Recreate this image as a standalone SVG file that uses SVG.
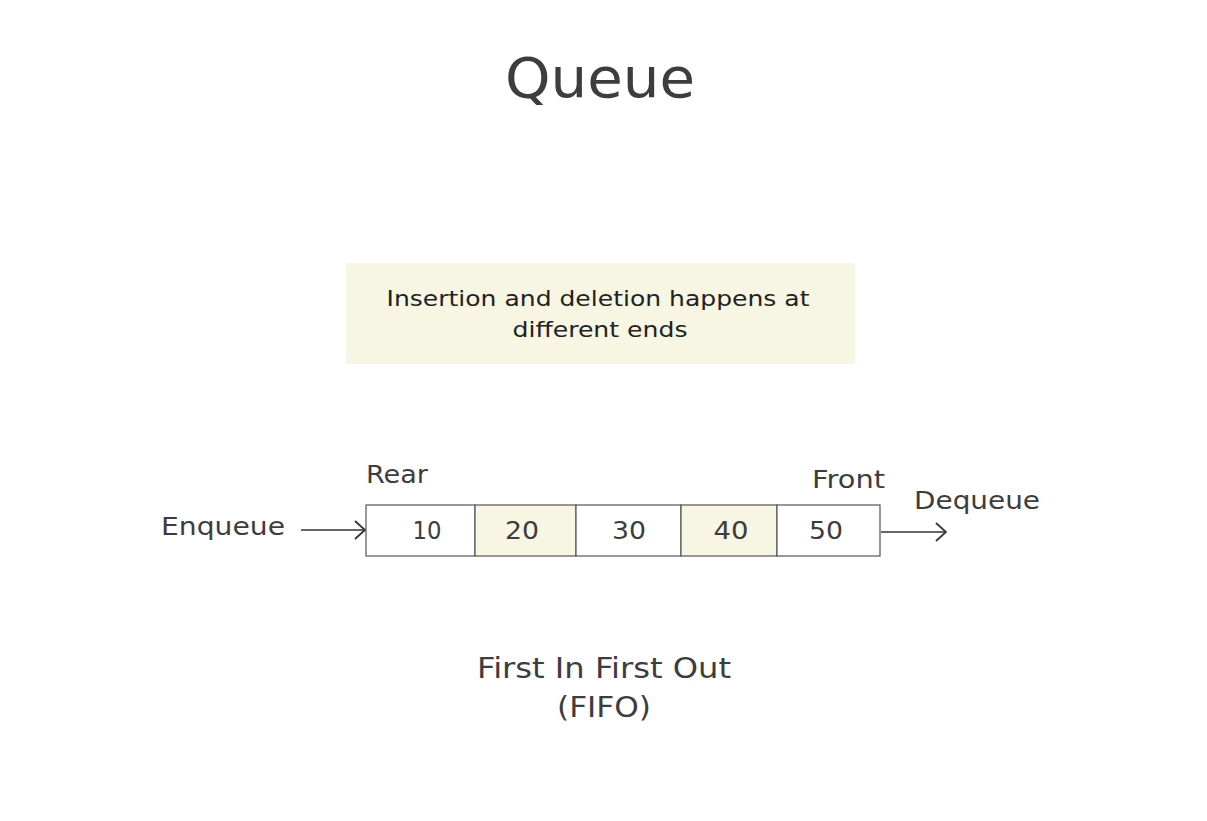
<svg xmlns="http://www.w3.org/2000/svg" width="1207" height="821" viewBox="0 0 1207 821">
<defs>
<style>
text{font-family:"DejaVu Sans","Open Sans",sans-serif;fill:#3d3d3d}
.lbl{font-size:24px}
.num{font-size:24px;text-anchor:middle}
.cell{stroke:#555;stroke-width:1.2}
.w{fill:#ffffff}
.y{fill:#f6f6e3}
.conn{stroke:#333;stroke-width:1.6;fill:none}
</style>
<marker id="arr" viewBox="0 0 12 20" refX="11" refY="10" markerWidth="12" markerHeight="20" markerUnits="userSpaceOnUse" orient="auto">
<path d="M1 1 L11 10 L1 19" fill="none" stroke="#333" stroke-width="1.8"/>
</marker>
</defs>
<rect width="1207" height="821" fill="#ffffff"/>
<g id="title"><text x="600" y="97" text-anchor="middle" style="font-size:55px" textLength="190" lengthAdjust="spacingAndGlyphs">Queue</text></g>
<g id="note">
<rect x="346" y="263" width="509" height="101" fill="#f6f6e3"/>
<text x="598" y="306" text-anchor="middle" style="font-size:22px;fill:#222" textLength="423" lengthAdjust="spacingAndGlyphs">Insertion and deletion happens at</text>
<text x="600" y="337" text-anchor="middle" style="font-size:22px;fill:#222" textLength="175" lengthAdjust="spacingAndGlyphs">different ends</text>
</g>
<g id="queue">
<rect class="cell w" x="366" y="505" width="109" height="51"/>
<rect class="cell y" x="475" y="505" width="101" height="51"/>
<rect class="cell w" x="576" y="505" width="105" height="51"/>
<rect class="cell y" x="681" y="505" width="96" height="51"/>
<rect class="cell w" x="777" y="505" width="103" height="51"/>
<text class="num" x="427" y="539" textLength="29" lengthAdjust="spacingAndGlyphs">10</text>
<text class="num" x="522" y="539" textLength="34" lengthAdjust="spacingAndGlyphs">20</text>
<text class="num" x="629" y="539" textLength="34" lengthAdjust="spacingAndGlyphs">30</text>
<text class="num" x="731" y="539" textLength="35" lengthAdjust="spacingAndGlyphs">40</text>
<text class="num" x="826" y="539" textLength="34" lengthAdjust="spacingAndGlyphs">50</text>
</g>
<g id="enqueue"><text class="lbl" x="161" y="535" textLength="124" lengthAdjust="spacingAndGlyphs">Enqueue</text></g>
<g id="rear"><text class="lbl" x="366" y="483" textLength="62" lengthAdjust="spacingAndGlyphs">Rear</text></g>
<g id="front"><text class="lbl" x="812" y="488" textLength="73" lengthAdjust="spacingAndGlyphs">Front</text></g>
<g id="dequeue"><text class="lbl" x="914" y="509" textLength="126" lengthAdjust="spacingAndGlyphs">Dequeue</text></g>
<g id="connectors">
<line class="conn" x1="301" y1="530" x2="365" y2="530" marker-end="url(#arr)"/>
<line class="conn" x1="881" y1="532" x2="946" y2="532" marker-end="url(#arr)"/>
</g>
<g id="fifo">
<text x="604" y="678" text-anchor="middle" style="font-size:28px" textLength="254" lengthAdjust="spacingAndGlyphs">First In First Out</text>
<text x="604" y="717" text-anchor="middle" style="font-size:28px" textLength="94" lengthAdjust="spacingAndGlyphs">(FIFO)</text>
</g>
</svg>
